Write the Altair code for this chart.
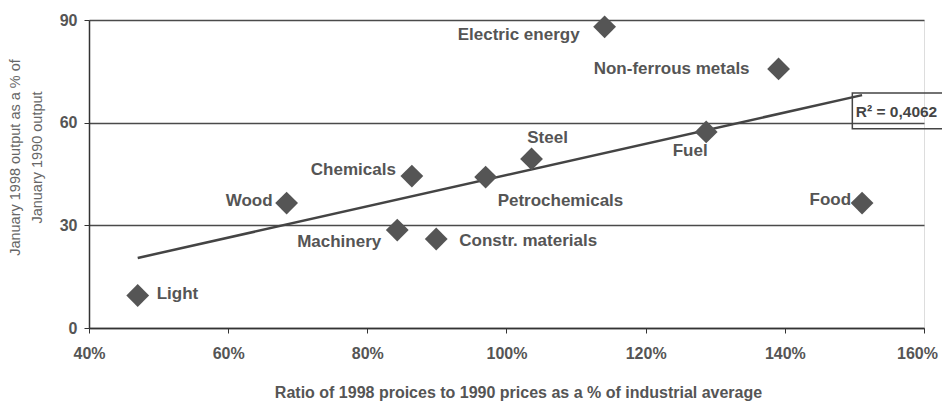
import altair as alt
import pandas as pd

# ---- data ----
sectors = ["Light", "Wood", "Machinery", "Constr. materials", "Chemicals",
           "Petrochemicals", "Steel", "Electric energy", "Non-ferrous metals",
           "Fuel", "Food"]
price_ratio = [0.470, 0.684, 0.843, 0.899, 0.864, 0.970, 1.036, 1.141, 1.391, 1.287, 1.511]
output_pct = [9.5, 36.5, 28.6, 26.0, 44.4, 44.1, 49.4, 88.0, 75.7, 57.3, 36.5]

x_ticks = [0.4, 0.6, 0.8, 1.0, 1.2, 1.4, 1.6]
y_ticks = [0, 30, 60, 90]

r2_text = "R² = 0,4062"

df = pd.DataFrame({"sector": sectors, "ratio": price_ratio, "output": output_pct})

# label placement (style, not data)
placement = {
    "Light": ("left", 19, -1),
    "Wood": ("right", -14, -2),
    "Machinery": ("right", -16, 12),
    "Constr. materials": ("left", 23, 2),
    "Chemicals": ("right", -16, -6),
    "Petrochemicals": ("left", 12, 24),
    "Steel": ("center", 16, -21),
    "Electric energy": ("right", -25, 8),
    "Non-ferrous metals": ("right", -29, 0),
    "Fuel": ("center", -16, 19),
    "Food": ("right", -11, -3),
}

GRAY = "#555555"
FONT = "Liberation Sans"

x_enc = alt.X("ratio:Q",
              scale=alt.Scale(domain=[0.4, 1.6], nice=False, zero=False),
              axis=alt.Axis(values=x_ticks, format=".0%", grid=False, labelFlush=False,
                            labelOffset={"condition": {"test": "datum.value >= 1.59", "value": -7},
                                         "value": 0},
                            title="Ratio of 1998 proices to 1990 prices  as a % of industrial average",
                            titleX=429, titleY=64, titleBaseline="middle",
                            titleFontSize=16, titleFontWeight="bold", titleColor=GRAY,
                            titleFont=FONT,
                            labelFontSize=16, labelFontWeight="bold", labelColor=GRAY,
                            labelFont=FONT, labelPadding=12,
                            tickSize=5, tickColor="#333333", domainColor="#333333",
                            domainWidth=1.5))
y_enc = alt.Y("output:Q",
              scale=alt.Scale(domain=[0, 90], nice=False),
              axis=alt.Axis(values=y_ticks, grid=True, gridColor="#4a4a4a",
                            gridWidth=1.6,
                            title=["January 1998 output as a % of", "January 1990 output"],
                            titleAngle=-90, titleX=-74, titleY=137,
                            titleBaseline="middle", titleAlign="center",
                            titleLineHeight=22,
                            titleFontSize=14.5, titleFontWeight="normal", titleColor="#666666",
                            titleFont=FONT,
                            labelFontSize=16, labelFontWeight="bold", labelColor=GRAY,
                            labelFont=FONT, labelPadding=7,
                            tickSize=5, tickColor="#333333", domainColor="#333333",
                            domainWidth=1.5))

base = alt.Chart(df)

points = base.mark_point(shape="diamond", filled=True, size=520, color=GRAY,
                         opacity=1).encode(x=x_enc, y=y_enc)

trend = base.transform_regression("ratio", "output", method="linear").mark_line(
    color="#444444", strokeWidth=2.5).encode(x="ratio:Q", y="output:Q")

labels = []
for s in sectors:
    align, dx, dy = placement[s]
    labels.append(
        base.transform_filter(alt.datum.sector == s).mark_text(
            align=align, baseline="middle", dx=dx, dy=dy, font=FONT,
            fontSize=17, fontWeight="bold", color=GRAY
        ).encode(x="ratio:Q", y="output:Q", text="sector:N")
    )

ann = pd.DataFrame({"x": [1.497], "x2": [1.66], "y": [68.7], "y2": [58.2],
                    "tx": [1.502], "ty": [63.2], "t": [r2_text]})
box = alt.Chart(ann).mark_rect(fill=None, stroke="#444444", strokeWidth=1.5,
                               clip=False).encode(x="x:Q", x2="x2:Q", y="y:Q", y2="y2:Q")
r2 = alt.Chart(ann).mark_text(align="left", baseline="middle", font=FONT,
                              fontSize=15.5, fontWeight="bold", color="#444444").encode(
    x="tx:Q", y="ty:Q", text="t:N")

chart = alt.layer(trend, points, *labels, box, r2).properties(
    width=835, height=308,
    autosize=alt.AutoSizeParams(type="none"),
    padding={"left": 81, "top": 12, "right": 18, "bottom": 75},
).configure_view(fill="#d8d8d8", stroke="#4a4a4a", strokeWidth=1.5).configure(
    background="white")

chart.save("out.html", embed_options={"renderer": "svg", "actions": False})
